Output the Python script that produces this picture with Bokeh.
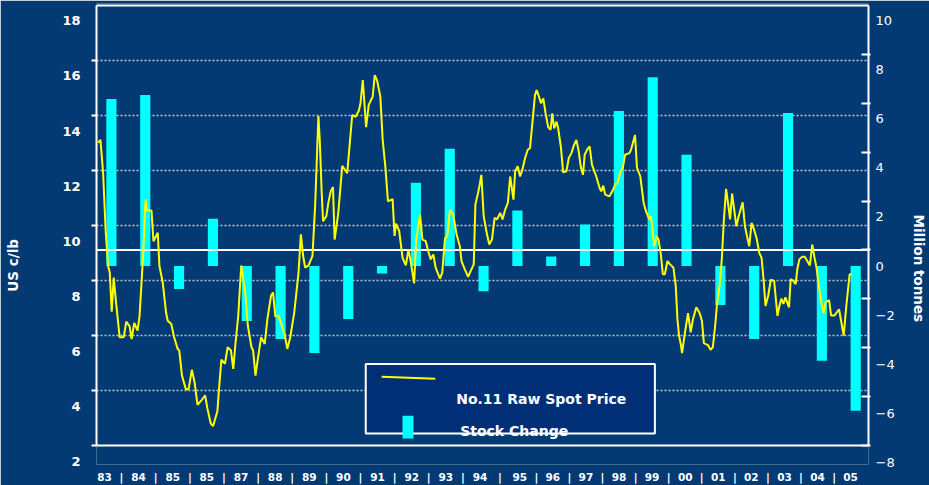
from bokeh.plotting import figure
from bokeh.models import (Range1d, LinearAxis, FixedTicker, Grid, Span, Label,
                          BoxAnnotation, PolyAnnotation, ColumnDataSource)
from bokeh.embed import file_html
from bokeh.resources import INLINE

# ---------------- data ----------------
years = list(range(1983, 2006))
year_labels = ["83", "84", "85", "85", "87", "88", "89", "90", "91", "92", "93", "94",
               "95", "96", "97", "98", "99", "00", "01", "02", "03", "04", "05"]
stock_change = [6.80, 6.96, -0.94, 1.93, -2.24, -2.97, -3.54, -2.16, -0.30, 3.39, 4.77, -1.03,
                2.26, 0.39, 1.69, 6.31, 7.69, 4.53, -1.59, -2.97, 6.23, -3.86, -5.89]

price_date = [
    1983.108, 1983.176, 1983.255, 1983.333, 1983.402, 1983.451, 1983.509, 1983.568, 1983.627, 1983.744,
    1983.862, 1983.940, 1984.038, 1984.097, 1984.175, 1984.273, 1984.332, 1984.430, 1984.508, 1984.547,
    1984.684, 1984.743, 1984.870, 1984.919, 1985.017, 1985.115, 1985.164, 1985.271, 1985.350, 1985.457,
    1985.506, 1985.585, 1985.702, 1985.780, 1985.878, 1985.957, 1986.045, 1986.172, 1986.270, 1986.338,
    1986.436, 1986.505, 1986.632, 1986.681, 1986.750, 1986.857, 1986.936, 1987.033, 1987.102, 1987.170,
    1987.249, 1987.337, 1987.454, 1987.533, 1987.640, 1987.689, 1987.758, 1987.836, 1987.924, 1988.032,
    1988.110, 1988.218, 1988.277, 1988.345, 1988.443, 1988.541, 1988.619, 1988.698, 1988.786, 1988.904,
    1989.031, 1989.100, 1989.168, 1989.227, 1989.325, 1989.442, 1989.521, 1989.618, 1989.658, 1989.716,
    1989.756, 1989.853, 1989.912, 1989.981, 1990.049, 1990.098, 1990.206, 1990.323, 1990.470, 1990.617,
    1990.715, 1990.813, 1990.862, 1990.930, 1991.028, 1991.106, 1991.224, 1991.283, 1991.351, 1991.449,
    1991.518, 1991.596, 1991.674, 1991.811, 1991.870, 1991.909, 1992.007, 1992.105, 1992.203, 1992.281,
    1992.360, 1992.448, 1992.507, 1992.624, 1992.692, 1992.790, 1992.869, 1992.937, 1993.015, 1993.084,
    1993.211, 1993.280, 1993.358, 1993.427, 1993.505, 1993.603, 1993.701, 1993.799, 1993.848, 1993.946,
    1994.044, 1994.122, 1994.210, 1994.259, 1994.337, 1994.386, 1994.435, 1994.504, 1994.601, 1994.669,
    1994.748, 1994.826, 1994.895, 1994.992, 1995.061, 1995.139, 1995.218, 1995.286, 1995.384, 1995.433,
    1995.511, 1995.580, 1995.648, 1995.727, 1995.805, 1995.873, 1995.942, 1996.020, 1996.069, 1996.138,
    1996.197, 1996.265, 1996.334, 1996.412, 1996.481, 1996.530, 1996.588, 1996.657, 1996.706, 1996.784,
    1996.853, 1996.950, 1997.019, 1997.097, 1997.176, 1997.244, 1997.313, 1997.371, 1997.440, 1997.489,
    1997.567, 1997.636, 1997.704, 1997.832, 1997.930, 1997.979, 1998.037, 1998.096, 1998.223, 1998.321,
    1998.390, 1998.468, 1998.546, 1998.615, 1998.683, 1998.810, 1998.860, 1998.977, 1999.036, 1999.134,
    1999.232, 1999.300, 1999.398, 1999.447, 1999.496, 1999.545, 1999.613, 1999.672, 1999.740, 1999.799,
    1999.858, 1999.936, 2000.015, 2000.112, 2000.181, 2000.230, 2000.279, 2000.328, 2000.367, 2000.446,
    2000.544, 2000.622, 2000.690, 2000.788, 2000.886, 2000.955, 2001.013, 2001.131, 2001.209, 2001.278,
    2001.346, 2001.405, 2001.474, 2001.542, 2001.601, 2001.669, 2001.738, 2001.787, 2001.846, 2001.914,
    2001.973, 2002.041, 2002.110, 2002.159, 2002.227, 2002.286, 2002.355, 2002.423, 2002.502, 2002.580,
    2002.648, 2002.717, 2002.776, 2002.834, 2002.913, 2002.991, 2003.089, 2003.187, 2003.245, 2003.304,
    2003.363, 2003.422, 2003.529, 2003.578, 2003.656, 2003.725, 2003.774, 2003.833, 2003.921, 2003.990,
    2004.068, 2004.146, 2004.215, 2004.283, 2004.342, 2004.411, 2004.479, 2004.557, 2004.606, 2004.714,
    2004.773, 2004.871, 2005.008, 2005.145, 2005.223, 2005.321, 2005.390]
price = [
    13.58, 13.68, 12.47, 10.31, 9.10, 8.86, 7.44, 8.68, 7.90, 6.51,
    6.51, 7.08, 6.91, 6.45, 7.03, 6.75, 7.29, 9.34, 11.51, 11.12,
    11.12, 10.00, 10.31, 9.10, 8.50, 7.41, 7.11, 6.99, 6.53, 6.09,
    6.03, 5.12, 4.62, 4.62, 5.33, 4.88, 4.06, 4.24, 4.40, 3.92,
    3.38, 3.29, 3.82, 4.64, 5.70, 5.55, 6.15, 6.03, 5.36, 6.33,
    7.29, 9.12, 8.14, 6.93, 6.15, 6.03, 5.12, 5.79, 6.51, 6.27,
    7.17, 8.02, 8.14, 7.27, 7.29, 6.91, 6.63, 6.09, 6.51, 7.41,
    8.86, 10.25, 9.46, 9.04, 9.12, 9.46, 11.27, 14.55, 13.68, 11.75,
    10.73, 10.91, 11.39, 11.81, 11.97, 10.06, 11.03, 12.74, 12.47, 14.58,
    14.52, 14.74, 15.01, 15.85, 14.14, 14.95, 15.25, 16.03, 15.85, 15.25,
    13.68, 12.72, 11.45, 11.53, 10.19, 10.64, 10.37, 9.40, 9.12, 9.70,
    9.16, 8.47, 10.06, 10.97, 10.06, 10.00, 9.62, 9.34, 9.52, 9.04,
    8.64, 8.86, 10.09, 10.19, 11.15, 10.97, 10.25, 9.82, 9.28, 8.98,
    8.71, 8.92, 9.16, 11.33, 11.75, 12.05, 12.41, 10.91, 10.25, 9.88,
    10.06, 10.85, 10.79, 11.03, 10.79, 11.15, 11.39, 12.35, 11.51, 12.54,
    12.72, 12.35, 12.60, 13.02, 13.32, 13.38, 14.28, 15.31, 15.49, 15.25,
    15.01, 15.19, 14.64, 14.14, 14.04, 14.64, 14.10, 14.34, 14.10, 13.44,
    12.50, 12.54, 13.02, 13.20, 13.50, 13.68, 13.26, 12.72, 12.41, 13.14,
    13.34, 13.44, 12.78, 12.35, 11.93, 11.81, 12.02, 11.69, 11.63, 11.85,
    12.05, 12.14, 12.54, 12.66, 13.14, 13.20, 13.32, 13.86, 12.66, 12.35,
    11.39, 11.09, 10.79, 10.91, 10.37, 9.82, 10.19, 10.06, 9.52, 8.80,
    8.80, 9.28, 9.16, 9.04, 8.38, 7.17, 6.57, 6.27, 5.94, 6.63,
    7.39, 6.69, 7.17, 7.60, 7.39, 7.11, 6.30, 6.23, 6.06, 6.15,
    6.93, 7.77, 8.38, 9.34, 10.73, 11.90, 11.27, 10.79, 11.73, 11.09,
    10.54, 10.91, 11.21, 11.41, 10.54, 10.19, 9.82, 10.67, 10.40, 10.06,
    9.58, 9.40, 8.62, 7.65, 8.02, 8.60, 8.56, 7.29, 7.65, 7.92,
    7.72, 7.96, 7.60, 8.62, 8.56, 8.44, 8.98, 9.34, 9.44, 9.44,
    9.28, 9.12, 9.88, 9.40, 9.04, 8.38, 7.78, 7.39, 7.78, 7.86,
    7.30, 7.30, 7.53, 6.57, 7.65, 8.80, 8.80]

left_ticks = [2, 4, 6, 8, 10, 12, 14, 16, 18]
right_ticks = [-8, -6, -4, -2, 0, 2, 4, 6, 8, 10]

# ---------------- style / layout (page pixel targets) ----------------
BG = "#033A74"
LEGEND_BG = "#002F78"
WHITE = "#FFFFFF"
YELLOW = "#FFFF00"
CYAN = "#00FFFF"
GRID = "#C8C8C8"
FONT = "DejaVu Sans"

W, H = 929, 485                            # canvas (page template has no body margin)
FL, FR, FT, FB = 96, 873, 3, 466           # frame edges
BOX_T, BOX_B = 5, 447                      # drawn box (grid scale)
PX_PER_YEAR = 34.05
X_START = 1983.059
X_END = X_START + (FR - FL) / PX_PER_YEAR

L_PX = 27.66                               # px per c/lb  ("18" at 20.5, "2" at 463)
Y_TOP = 18 + (20.5 - FT) / L_PX
Y_BOT = 2 - (FB - 463) / L_PX
R_PX = 24.67                               # px per Mt    ("10" at 20, "-8" at 464)
R_TOP = 10 + (20 - FT) / R_PX
R_BOT = -8 - (FB - 464) / R_PX
GL_PX = (BOX_B - BOX_T) / 16               # box / gridline scale, left
GL_TOP = 18 + (BOX_T - FT) / GL_PX
GL_BOT = 2 - (FB - BOX_B) / GL_PX
GR_PX = (BOX_B - BOX_T) / 18               # box / tick scale, right
GR_TOP = 10 + (BOX_T - FT) / GR_PX
GR_BOT = -8 - (FB - BOX_B) / GR_PX


def xpx(px):
    return X_START + (px - FL) / PX_PER_YEAR


def ypx(py):
    return 18 - (py - 20.5) / L_PX


def rpx(py):
    return 10 - (py - 20) / R_PX


p = figure(width=W, height=H, output_backend="svg", toolbar_location=None,
           x_range=Range1d(X_START, X_END), y_range=Range1d(Y_BOT, Y_TOP),
           x_axis_location=None, y_axis_location=None, title=None,
           min_border_left=FL, min_border_right=W - FR,
           min_border_top=FT, min_border_bottom=H - FB,
           background_fill_color=BG, border_fill_color=BG, outline_line_color=None)
for g in p.grid:
    g.visible = False

p.extra_y_ranges = {
    "right": Range1d(R_BOT, R_TOP),
    "gl": Range1d(GL_BOT, GL_TOP),
    "gr": Range1d(GR_BOT, GR_TOP),
}

p.add_layout(Grid(dimension=1, y_range_name="gl",
                  ticker=FixedTicker(ticks=left_ticks[1:-1], minor_ticks=[]),
                  grid_line_color=GRID, grid_line_width=1.5, grid_line_dash="2 2"))

no_line = dict(axis_line_color=None, major_tick_line_color=None, minor_tick_line_color=None,
               major_tick_out=0, major_tick_in=0)

# ---- left side: box edge + outward ticks, value labels, title
p.add_layout(LinearAxis(y_range_name="gl", bounds=(2, 18),
                        ticker=FixedTicker(ticks=left_ticks[:-1], minor_ticks=[]),
                        major_label_overrides={t: "" for t in left_ticks},
                        axis_line_color=WHITE, axis_line_width=2,
                        major_tick_line_color=WHITE, major_tick_line_width=2,
                        major_tick_out=5, major_tick_in=0, minor_tick_line_color=None,
                        major_label_standoff=0), "left")
p.add_layout(LinearAxis(ticker=FixedTicker(ticks=left_ticks, minor_ticks=[]),
                        major_label_standoff=11, major_label_text_font=FONT,
                        major_label_text_font_style="bold", major_label_text_font_size="13px",
                        major_label_text_color=WHITE, **no_line), "left")
lt = ypx(266)
p.add_layout(LinearAxis(ticker=FixedTicker(ticks=[lt], minor_ticks=[]),
                        major_label_overrides={lt: "US c/lb"},
                        major_label_orientation="parallel", major_label_standoff=38,
                        major_label_text_font=FONT, major_label_text_font_style="bold",
                        major_label_text_font_size="13.5px", major_label_text_color=WHITE,
                        **no_line), "left")

# ---- right side: box edge + inward ticks, value labels, title
p.add_layout(LinearAxis(y_range_name="gr", bounds=(-8, 10),
                        ticker=FixedTicker(ticks=right_ticks[:-1], minor_ticks=[]),
                        major_label_overrides={t: "" for t in right_ticks},
                        axis_line_color=WHITE, axis_line_width=2,
                        major_tick_line_color=WHITE, major_tick_line_width=2,
                        major_tick_out=2, major_tick_in=7, minor_tick_line_color=None,
                        major_label_standoff=0), "right")
p.add_layout(LinearAxis(y_range_name="right", ticker=FixedTicker(ticks=right_ticks, minor_ticks=[]),
                        major_label_standoff=5, major_label_text_font=FONT,
                        major_label_text_font_size="13px", major_label_text_color=WHITE,
                        **no_line), "right")
rt = rpx(269)
p.add_layout(LinearAxis(y_range_name="right", ticker=FixedTicker(ticks=[rt], minor_ticks=[]),
                        major_label_overrides={rt: "Million tonnes"},
                        major_label_orientation="parallel", major_label_standoff=13,
                        major_label_text_font=FONT, major_label_text_font_style="bold",
                        major_label_text_font_size="13.5px", major_label_text_color=WHITE,
                        **no_line), "right")

# ---- bottom: year labels separated by "|"
lab_px = [104 + 34.36 * k for k in range(12)] + [522 + 33.3 * k for k in range(11)]
lab_pos = [xpx(v) for v in lab_px]
sep_pos = [(a + b) / 2 for a, b in zip(lab_pos[:-1], lab_pos[1:])]
overrides = {pos: lab for pos, lab in zip(lab_pos, year_labels)}
overrides.update({pos: "|" for pos in sep_pos})
p.add_layout(LinearAxis(ticker=FixedTicker(ticks=sorted(lab_pos + sep_pos), minor_ticks=[]),
                        major_label_overrides=overrides, major_label_standoff=6,
                        major_label_text_font=FONT, major_label_text_font_style="bold",
                        major_label_text_font_size="10.5px", major_label_text_color=WHITE,
                        **no_line), "below")

# ---- box top / bottom edges and zero line of the stock scale
p.add_layout(Span(location=18, dimension="width", y_range_name="gl",
                  line_color=WHITE, line_width=2))
p.add_layout(Span(location=2, dimension="width", y_range_name="gl",
                  line_color=WHITE, line_width=2))
p.add_layout(Span(location=0, dimension="width", y_range_name="gr",
                  line_color=WHITE, line_width=2))

# ---- bars
src_b = ColumnDataSource(dict(x=[y + 0.5 for y in years], top=stock_change))
p.vbar(x="x", top="top", bottom=0, width=0.30, source=src_b, y_range_name="right",
       fill_color=CYAN, line_color=None)

# ---- price line
src_l = ColumnDataSource(dict(x=price_date, y=price))
p.line(x="x", y="y", source=src_l, line_color=YELLOW, line_width=2, level="overlay")

# ---- legend
p.add_layout(BoxAnnotation(left=xpx(367), right=xpx(658), top=ypx(365), bottom=ypx(435),
                           fill_color=LEGEND_BG, fill_alpha=1, line_color=WHITE,
                           line_alpha=1, line_width=2))
p.add_layout(PolyAnnotation(xs=[xpx(383), xpx(437)], ys=[ypx(378), ypx(380)],
                            line_color=YELLOW, line_width=2, line_alpha=1, fill_alpha=0))
p.add_layout(BoxAnnotation(left=xpx(404), right=xpx(415), top=ypx(417), bottom=ypx(440),
                           fill_color=CYAN, fill_alpha=1, line_color=None))
p.add_layout(Label(x=xpx(458), y=ypx(400), text="No.11 Raw Spot Price", text_align="left",
                   text_baseline="middle", text_font=FONT, text_font_style="bold",
                   text_font_size="14px", text_color=WHITE))
p.add_layout(Label(x=xpx(462), y=ypx(432), text="Stock Change", text_align="left",
                   text_baseline="middle", text_font=FONT, text_font_style="bold",
                   text_font_size="14px", text_color=WHITE))

open("out.html", "w").write(file_html(p, INLINE))
